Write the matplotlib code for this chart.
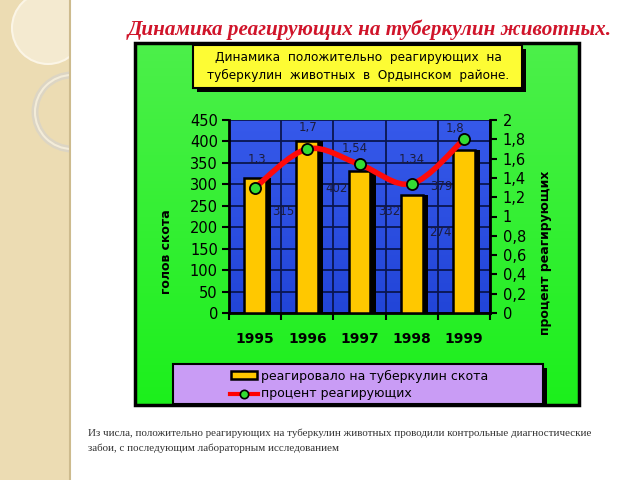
import numpy as np
import matplotlib
matplotlib.use('Agg')
import matplotlib.pyplot as plt
from matplotlib.patches import Rectangle, Circle, PathPatch
from matplotlib.path import Path
from matplotlib.ticker import FuncFormatter, FixedLocator

# data
years = ['1995', '1996', '1997', '1998', '1999']
heads = [315, 402, 332, 274, 379]          # голов скота
pct = [1.3, 1.7, 1.54, 1.34, 1.8]          # процент реагирующих
pct_labels = ['1,3', '1,7', '1,54', '1,34', '1,8']
head_labels = ['315', '402', '332', '274', '379']

# label offsets in pixels (style only)
pct_dx = [2, 1, -5, 0, -9]
pct_dy = [28, 21, 16, 24, 11]
head_dx = [28, 29, 30, 29, -23]
head_dy = [-34, -48, -41, -37, -36]

W, H = 640, 480
fig = plt.figure(figsize=(6.4, 4.8), dpi=100)
fig.patch.set_facecolor('white')

# background layer in pixel coordinates
bg = fig.add_axes([0, 0, 1, 1])
bg.set_xlim(0, W)
bg.set_ylim(H, 0)
bg.axis('off')

# left decorative strip
bg.add_patch(Rectangle((0, 0), 70, H, fc='#ecdcb3', ec='none'))
bg.plot([70, 70], [0, H], color='#cdbb8e', lw=1.5)
strip = Rectangle((0, 0), 70, H, transform=bg.transData)
c1 = Circle((48, 28), 36, fc='#f4ead0', ec='#fbf5e6', lw=1.5)
c2 = Circle((72, 112), 37, fc='none', ec='#dcd5c4', lw=5)
c3 = Circle((72, 112), 37, fc='none', ec='#f3ecd9', lw=1.5)
for c in (c1, c2, c3):
    bg.add_patch(c)
    c.set_clip_path(strip)

# slide title
bg.text(370, 30, 'Динамика реагирующих на туберкулин животных.',
        ha='center', va='center', color='#d0142a', fontsize=15.2,
        family='Liberation Serif', weight='bold', style='italic')

# green panel with gradient
bg.add_patch(Rectangle((137, 45), 444, 362, fc='black', ec='none'))
green = np.linspace(0, 1, 100).reshape(-1, 1)
gcm = matplotlib.colors.LinearSegmentedColormap.from_list('g', ['#4cf04a', '#1cef1c'])
bg.imshow(green, cmap=gcm, extent=(135, 579, 405, 43), aspect='auto', zorder=1)
bg.add_patch(Rectangle((135, 43), 444, 362, fc='none', ec='black', lw=2.5, zorder=2))

# chart title box
bg.add_patch(Rectangle((197, 49), 329, 43, fc='black', ec='none', zorder=3))
bg.add_patch(Rectangle((193, 45), 329, 43, fc='#fdfc34', ec='black', lw=1.5, zorder=4))
bg.text(358, 58, 'Динамика  положительно  реагирующих  на',
        ha='center', va='center', fontsize=8.7, zorder=5)
bg.text(358, 75, 'туберкулин  животных  в  Ордынском  районе.',
        ha='center', va='center', fontsize=8.7, zorder=5)

# axis titles
bg.text(167, 252, 'голов скота', rotation=90, ha='center', va='center',
        fontsize=9, weight='bold', zorder=5)
bg.text(545, 253, 'процент реагирующих', rotation=90, ha='center', va='center',
        fontsize=9, weight='bold', zorder=5)

# legend box
bg.add_patch(Rectangle((177, 368), 370, 38, fc='black', ec='none', zorder=3))
bg.add_patch(Rectangle((173, 364), 370, 40, fc='#c99cf5', ec='black', lw=1.5, zorder=4))
bg.add_patch(Rectangle((231, 371), 26, 8, fc='#ffc800', ec='black', lw=1.8, zorder=5))
bg.text(261, 376, 'реагировало на туберкулин скота', ha='left', va='center',
        fontsize=9, zorder=5)
bg.plot([230, 258], [394, 394], color='red', lw=3, zorder=5)
bg.plot([244], [394], 'o', mfc='#33dd33', mec='black', ms=6, mew=1.2, zorder=6)
bg.text(261, 394, 'процент реагирующих', ha='left', va='center',
        fontsize=9, zorder=5)

# footer note
bg.text(88, 433, 'Из числа, положительно реагирующих на туберкулин животных проводили контрольные диагностические',
        ha='left', va='center', fontsize=7.95, family='Liberation Serif', color='#333333')
bg.text(88, 448, 'забои, с последующим лабораторным исследованием',
        ha='left', va='center', fontsize=7.95, family='Liberation Serif', color='#333333')

# main plot axes
x0, x1, y0, y1 = 229, 490, 120, 313
ax = fig.add_axes([x0 / W, 1 - y1 / H, (x1 - x0) / W, (y1 - y0) / H])
ax.patch.set_alpha(0)
xs = np.arange(len(years))
ax.set_xlim(-0.5, len(years) - 0.5)
ax.set_ylim(0, 450)

bcm = matplotlib.colors.LinearSegmentedColormap.from_list('b', ['#2245d8', '#3659ea'])
ax.imshow(np.linspace(0, 1, 100).reshape(-1, 1), cmap=bcm, origin='lower',
          extent=(-0.5, 4.5, 0, 450), aspect='auto', zorder=-2)

ax.bar(xs + 0.1, heads, width=0.42, color='black', zorder=2)
ax.bar(xs, heads, width=0.42, color='#ffc800', edgecolor='black', lw=1.8, zorder=3)
for i, lab in enumerate(head_labels):
    ax.annotate(lab, (xs[i], heads[i]), xytext=(head_dx[i] * 0.72, head_dy[i] * 0.72),
                textcoords='offset points', ha='center', va='center',
                fontsize=8.5, color='#1c1c3c', zorder=4)

ax.yaxis.set_major_locator(FixedLocator(np.arange(0, 451, 50)))
ax.set_xticks(xs)
ax.set_xticklabels(years, fontsize=10, weight='bold')
ax.set_xticks(np.arange(-0.5, len(years), 1), minor=True)
ax.tick_params(axis='x', which='major', length=0, pad=14)
ax.tick_params(axis='x', which='minor', length=5, width=1.5, direction='out')
ax.tick_params(axis='y', length=5, width=1.5, labelsize=10.5, pad=3)
ax.set_axisbelow(True)
ax.grid(axis='y', which='major', color='#0a1650', lw=1.3)
ax.grid(axis='x', which='minor', color='#0a1650', lw=1.3)
for s in ['left', 'bottom']:
    ax.spines[s].set_linewidth(2)
for s in ['top', 'right']:
    ax.spines[s].set_visible(False)

ax2 = ax.twinx()
ax2.set_ylim(0, 2)
ax2.set_xlim(-0.5, len(years) - 0.5)
ax2.yaxis.set_major_locator(FixedLocator(np.arange(0, 2.01, 0.2)))
ax2.yaxis.set_major_formatter(FuncFormatter(lambda v, p: f'{round(v, 1):g}'.replace('.', ',')))
ax2.tick_params(axis='y', length=5, width=1.5, labelsize=10.5, pad=4)
ax2.spines['right'].set_linewidth(2)
for s in ['top', 'left', 'bottom']:
    ax2.spines[s].set_visible(False)

# smoothed line (Catmull-Rom as cubic Bezier)
pts = np.column_stack([xs, pct])
n = len(pts)
verts = [pts[0]]
codes = [Path.MOVETO]
for i in range(n - 1):
    p0 = pts[max(i - 1, 0)]
    p1 = pts[i]
    p2 = pts[i + 1]
    p3 = pts[min(i + 2, n - 1)]
    verts += [p1 + (p2 - p0) / 6, p2 - (p3 - p1) / 6, p2]
    codes += [Path.CURVE4] * 3
ax2.add_patch(PathPatch(Path(verts, codes), fill=False, ec='#ff0a0a', lw=4,
                        capstyle='round', zorder=5))
ax2.plot(xs, pct, 'o', mfc='#33dd33', mec='black', ms=8, mew=1.3, zorder=6)
for i, lab in enumerate(pct_labels):
    ax2.annotate(lab, (xs[i], pct[i]), xytext=(pct_dx[i] * 0.72, pct_dy[i] * 0.72),
                 textcoords='offset points', ha='center', va='center',
                 fontsize=8.5, color='#1c1c3c', zorder=7)

fig.savefig('out.png', dpi=100)
